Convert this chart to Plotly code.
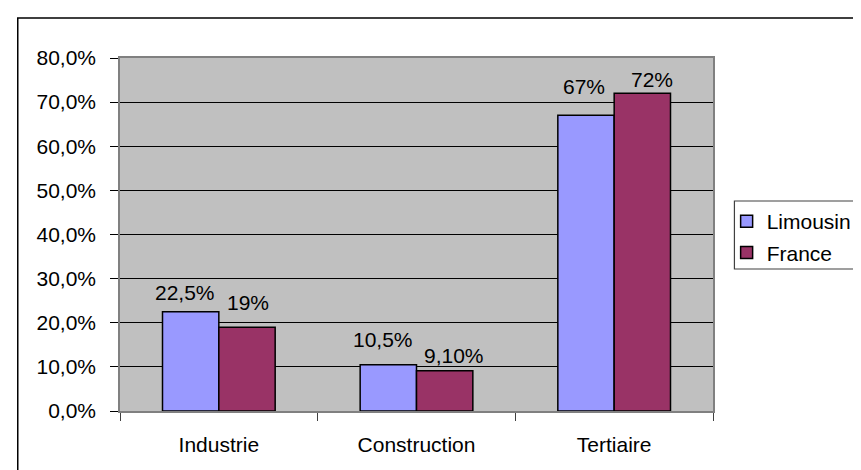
import plotly.graph_objects as go

categories = ["Industrie", "Construction", "Tertiaire"]
limousin = [0.225, 0.105, 0.67]
france = [0.19, 0.091, 0.72]
limousin_labels = ["22,5%", "10,5%", "67%"]
france_labels = ["19%", "9,10%", "72%"]
y_ticks = [0.0, 0.1, 0.2, 0.3, 0.4, 0.5, 0.6, 0.7, 0.8]

# label placement styling (pixel offsets from the bar top centre)
limousin_label_dx = [-5, -5, -1]
limousin_label_dy = [19, 25, 29]
france_label_dx = [0, 8, 9]
france_label_dy = [25, 15, 14]

W, H = 861, 470
L, R, T, B = 112, 721, 50, 403
pw, ph = R - L, B - T
BAR_PX = 58

def px(x):
    return (x - L) / pw

def py(y):
    return (B - y) / ph

FONT = "Liberation Sans, Arial, sans-serif"

fig = go.Figure()
fig.add_trace(go.Bar(
    name="Limousin", x=categories, y=limousin, legendgroup="a",
    marker=dict(color="#9999FF", line=dict(color="black", width=1.5)),
))
fig.add_trace(go.Bar(
    name="France", x=categories, y=france, legendgroup="b",
    marker=dict(color="#993366", line=dict(color="black", width=1.5)),
))

annotations = []
for cat, v, t, dx, dy in zip(categories, limousin, limousin_labels,
                             limousin_label_dx, limousin_label_dy):
    annotations.append(dict(x=cat, y=v, text=t, showarrow=False,
                            xshift=-BAR_PX / 2 + dx, yshift=dy,
                            xanchor="center", yanchor="middle",
                            font=dict(size=21, color="black", family=FONT)))
for cat, v, t, dx, dy in zip(categories, france, france_labels,
                             france_label_dx, france_label_dy):
    annotations.append(dict(x=cat, y=v, text=t, showarrow=False,
                            xshift=BAR_PX / 2 + dx, yshift=dy,
                            xanchor="center", yanchor="middle",
                            font=dict(size=21, color="black", family=FONT)))

fig.update_layout(
    width=W, height=H,
    margin=dict(l=L, r=W - R, t=T, b=H - B, pad=0),
    paper_bgcolor="white", plot_bgcolor="#C0C0C0",
    font=dict(family=FONT, size=21, color="black"),
    barmode="group", bargap=0.43, bargroupgap=0,
    showlegend=True,
    legend=dict(x=px(735), y=py(193), xanchor="left", yanchor="top",
                bgcolor="rgba(0,0,0,0)", borderwidth=0,
                font=dict(size=21), tracegroupgap=1,
                itemwidth=30),
    xaxis=dict(showgrid=False, ticks="outside", tickson="boundaries",
               ticklen=8, tickcolor="#404040", showline=True,
               linecolor="#808080", linewidth=1.5, mirror=True,
               ticklabelstandoff=14),
    yaxis=dict(range=[0, 0.8], tickvals=y_ticks, tickformat=".1%",
               showgrid=True, gridcolor="black", gridwidth=1,
               ticks="outside", ticklen=8, tickcolor="black",
               showline=True, linecolor="#808080", linewidth=1.5,
               mirror=True, zeroline=False, ticklabelstandoff=10),
    separators=",.",
    annotations=annotations,
    shapes=[
        dict(type="rect", xref="paper", yref="paper",
             x0=px(7), x1=px(880), y0=py(490), y1=py(10),
             line=dict(color="black", width=1.5), fillcolor="rgba(0,0,0,0)"),
        dict(type="rect", xref="paper", yref="paper",
             x0=px(743), x1=px(880), y0=py(261), y1=py(193),
             line=dict(color="#404040", width=1.2), fillcolor="rgba(0,0,0,0)"),
    ],
)

fig.write_html("out.html")
